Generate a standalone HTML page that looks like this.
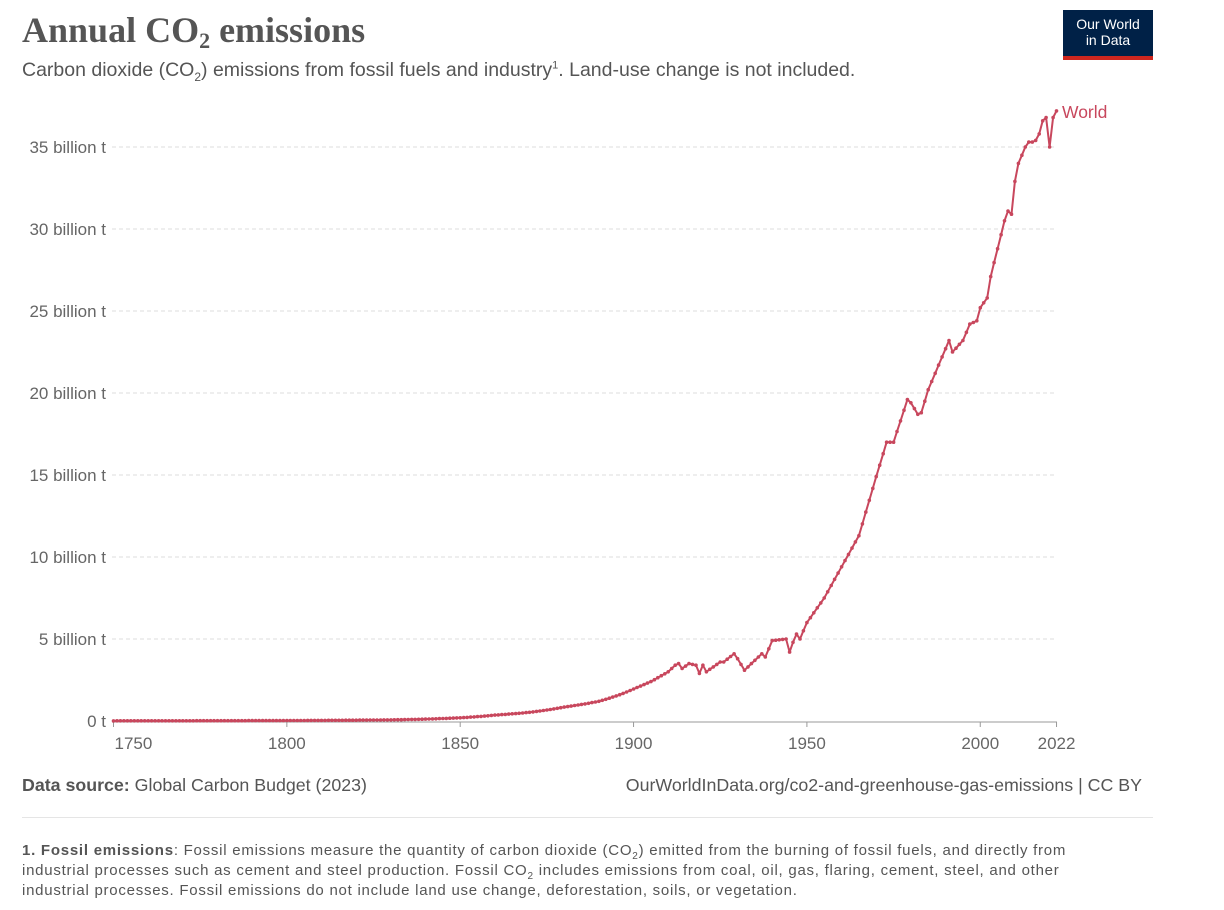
<!DOCTYPE html>
<html><head><meta charset="utf-8"><style>
html,body{margin:0;padding:0;background:#fff;}
body{width:1224px;height:910px;position:relative;overflow:hidden;font-family:"Liberation Sans",sans-serif;}
.t{position:absolute;white-space:nowrap;}
sub,sup{line-height:0;}
</style></head><body>
<div class="t" style="left:22px;top:9px;font-family:'Liberation Serif',serif;font-size:36px;font-weight:bold;color:#555;">Annual CO<sub style="font-size:22px;vertical-align:-6px;">2</sub> emissions</div>
<div class="t" style="left:22px;top:59px;font-size:19.5px;color:#555;">Carbon dioxide (CO<sub style="font-size:12px;">2</sub>) emissions from fossil fuels and industry<sup style="font-size:11px;">1</sup>. Land-use change is not included.</div>
<div style="position:absolute;left:1063px;top:10px;width:90px;height:46px;background:#002147;"></div>
<div style="position:absolute;left:1063px;top:56px;width:90px;height:4px;background:#ce261e;"></div>
<div class="t" style="left:1063px;top:16px;width:90px;text-align:center;color:#fff;font-size:14px;line-height:16px;">Our World<br>in Data</div>
<svg id="c" width="1224" height="910" style="position:absolute;left:0;top:0;" xmlns="http://www.w3.org/2000/svg"></svg>
<div class="t" style="left:22px;top:775px;font-size:17.8px;color:#555;"><b>Data source:</b> Global Carbon Budget (2023)</div>
<div class="t" style="right:82px;top:775px;font-size:17.8px;color:#555;">OurWorldInData.org/co2-and-greenhouse-gas-emissions | CC BY</div>
<div style="position:absolute;left:22px;top:817px;width:1131px;height:1px;background:#e5e5e5;"></div>
<div class="t" style="left:22px;top:841px;font-size:15px;letter-spacing:0.75px;line-height:20px;color:#555;white-space:normal;width:1060px;"><b>1. Fossil emissions</b>: Fossil emissions measure the quantity of carbon dioxide (CO<sub style="font-size:10px;">2</sub>) emitted from the burning of fossil fuels, and directly from industrial processes such as cement and steel production. Fossil CO<sub style="font-size:10px;">2</sub> includes emissions from coal, oil, gas, flaring, cement, steel, and other industrial processes. Fossil emissions do not include land use change, deforestation, soils, or vegetation.</div>
<script>
var s=document.getElementById('c'),h='';
function X(y){return 113.5+(y-1750)*3.467;}
function Y(v){return 721-v*16.4;}
for(var i=0;i<=35;i+=5){var y=Y(i);
 h+='<text x="106" y="'+(y+6)+'" text-anchor="end" font-size="17" fill="#666" font-family="Liberation Sans">'+(i?i+' billion t':'0 t')+'</text>';
 if(i)h+='<line x1="112" x2="1056" y1="'+y+'" y2="'+y+'" stroke="#ddd" stroke-dasharray="4,3"/>';}
h+='<line x1="112" x2="1057" y1="722" y2="722" stroke="#999"/>';
[[1750,'start'],[1800],[1850],[1900],[1950],[2000],[2022]].forEach(function(t){var x=X(t[0]);
 h+='<line x1="'+x+'" x2="'+x+'" y1="722" y2="727" stroke="#999"/>';
 h+='<text x="'+(t[0]==1750?x+1:x)+'" y="749" text-anchor="'+(t[1]||'middle')+'" font-size="17" fill="#666" font-family="Liberation Sans">'+t[0]+'</text>';});
var k=[[1750,.009],[1800,.028],[1830,.07],[1850,.197],[1860,.36],[1870,.53],[1880,.85],[1890,1.2],[1900,1.95],[1905,2.4],[1910,3.0],[1912,3.4],[1913,3.5],[1914,3.2],[1916,3.5],[1918,3.4],[1919,2.9],[1920,3.4],[1921,3.0],[1925,3.6],[1926,3.6],[1929,4.1],[1930,3.8],[1932,3.1],[1937,4.1],[1938,3.9],[1940,4.9],[1944,5.0],[1945,4.2],[1946,4.8],[1947,5.3],[1948,5.0],[1950,6.0],[1955,7.5],[1960,9.4],[1965,11.3],[1970,14.9],[1973,17.0],[1975,17.0],[1979,19.6],[1980,19.4],[1982,18.7],[1983,18.8],[1985,20.2],[1990,22.7],[1991,23.2],[1992,22.5],[1995,23.2],[1997,24.2],[1999,24.4],[2000,25.2],[2002,25.8],[2003,27.1],[2005,28.8],[2007,30.5],[2008,31.1],[2009,30.9],[2010,32.9],[2011,34.0],[2012,34.5],[2013,35.0],[2014,35.3],[2015,35.3],[2016,35.4],[2017,35.8],[2018,36.6],[2019,36.8],[2020,35.0],[2021,36.8],[2022,37.2]];
var pts=[],j=0;
for(var yr=1750;yr<=2022;yr++){while(k[j+1]&&k[j+1][0]<yr)j++;var a=k[j],b=k[j+1]||a,v;
 if(yr==a[0])v=a[1];else{var f=(yr-a[0])/(b[0]-a[0]);v=a[0]<1900?a[1]*Math.pow(b[1]/a[1],f):a[1]+(b[1]-a[1])*f;}
 pts.push([X(yr),Y(v)]);}
h+='<polyline fill="none" stroke="#c8475d" stroke-width="2" stroke-linejoin="round" points="'+pts.map(function(p){return p[0].toFixed(1)+','+p[1].toFixed(1)}).join(' ')+'"/>';
pts.forEach(function(p){h+='<circle cx="'+p[0].toFixed(1)+'" cy="'+p[1].toFixed(1)+'" r="1.8" fill="#c8475d"/>';});
h+='<text x="1062" y="118" font-size="17.5" fill="#c8475d" font-family="Liberation Sans">World</text>';
s.innerHTML=h;
</script>
</body></html>
